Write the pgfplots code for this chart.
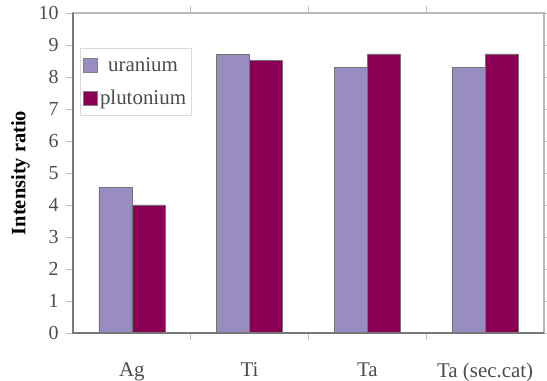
\documentclass[border=0pt]{standalone}
\usepackage{pgfplots}
\pgfplotsset{compat=1.18}
\usepackage{fontspec}
\setmainfont{Liberation Serif}
\definecolor{uran}{RGB}{153,140,192}
\definecolor{plut}{RGB}{138,0,84}
\definecolor{frame}{RGB}{120,120,120}
\begin{document}
\begin{tikzpicture}
\begin{axis}[
  at={(0,0)}, anchor=south west,
  scale only axis,
  width=471bp, height=320bp,
  ybar=0bp, bar width=33bp,
  xmin=-0.5, xmax=3.5,
  ymin=0, ymax=10,
  ytick={0,1,...,10},
  xtick={0,1,2,3},
  xticklabels={Ag,Ti,Ta,Ta (sec.cat)},
  minor xtick={0.5,1.5,2.5},
  major x tick style={draw=none},
  minor x tick style={draw=black!25, line width=0.7pt},
  minor tick length=7bp,
  y tick style={draw=black!25, line width=0.7pt},
  major tick length=7bp,
  tick align=outside,
  axis line style={draw=black!28, line width=1.3pt},
  tick label style={font=\fontsize{20}{22}\selectfont, text=black!70},
  /pgf/number format/assume math mode=true,
  yticklabel style={xshift=-4bp},
  ylabel={\textbf{Intensity ratio}},
  ylabel style={font=\fontsize{20.5}{22}\selectfont, yshift=2bp},
  xticklabel style={yshift=-19bp, font=\fontsize{21}{23}\selectfont},
  legend style={at={(0.015,0.89)}, anchor=north west, draw=black!15, line width=0.7pt,
    font=\fontsize{21}{23}\selectfont, text=black!70, row sep=13bp, inner xsep=3bp, inner ysep=7bp},
  legend image code/.code={\draw[#1, draw=black!50] (3bp,-7bp) rectangle (17bp,7bp);},
  clip=false,
  after end axis/.code={
    \draw[frame, line width=1.4pt] (rel axis cs:0,1) -- (rel axis cs:0,0) -- (rel axis cs:1,0);
  },
]
\addplot[fill=uran, draw=black!55, line width=0.6pt] coordinates {(0,4.56) (1,8.70) (2,8.31) (3,8.31)};
\addplot[fill=plut, draw=black!55, line width=0.6pt] coordinates {(0,4.00) (1,8.52) (2,8.72) (3,8.72)};
\legend{uranium,plutonium}
\end{axis}
\pgfresetboundingbox
\path[use as bounding box] (-73bp,-48bp) rectangle (474bp,333bp);
\end{tikzpicture}
\end{document}
